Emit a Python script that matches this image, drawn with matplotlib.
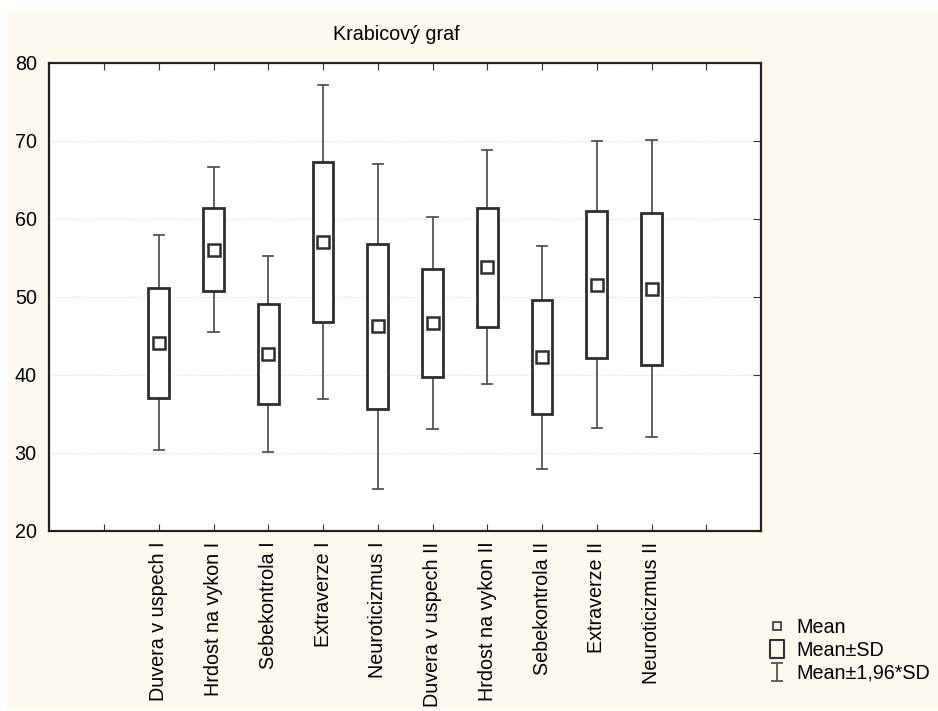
import matplotlib
matplotlib.use("Agg")
import matplotlib.pyplot as plt
from matplotlib.patches import Rectangle
from matplotlib.lines import Line2D
from matplotlib.path import Path
import numpy as np

plt.rcParams['font.family'] = ['Liberation Sans', 'DejaVu Sans']

# data (mean and SD for each variable)
labels = ["Duvera v uspech I", "Hrdost na vykon I", "Sebekontrola I", "Extraverze I",
          "Neuroticizmus I", "Duvera v uspech II", "Hrdost na vykon II",
          "Sebekontrola II", "Extraverze II", "Neuroticizmus II"]
means = [44.11, 56.05, 42.62, 57.00, 46.19, 46.65, 53.78, 42.25, 51.56, 51.03]
sds = [7.05, 5.37, 6.40, 10.25, 10.63, 6.93, 7.65, 7.30, 9.38, 9.73]
k = 1.96
legend_labels = ["Mean", "Mean±SD", "Mean±1,96*SD"]

fs = 14.2
cream = '#fef9ee'
fig = plt.figure(figsize=(9.38, 7.11), dpi=100, facecolor='white')
fig.patches.append(Rectangle((7/938, 2/711), 1 - 7/938, 1 - 12/711,
                             transform=fig.transFigure, facecolor=cream,
                             edgecolor='none', zorder=-10))

ax = fig.add_axes([49.3/938, 1 - 530.7/711, (761 - 49.3)/938, (530.7 - 62.7)/711])
ax.set_facecolor('white')

pos = np.arange(2, 2 + len(labels))
m = np.array(means)
s = np.array(sds)
bw = 0.38
cw = 0.19

for x, mu, sd in zip(pos, m, s):
    # whiskers Mean +- 1.96*SD
    ax.plot([x, x], [mu + sd, mu + k*sd], color='#555555', lw=1.3, zorder=2)
    ax.plot([x, x], [mu - k*sd, mu - sd], color='#555555', lw=1.3, zorder=2)
    ax.plot([x - cw/2, x + cw/2], [mu + k*sd]*2, color='#555555', lw=1.3, zorder=2)
    ax.plot([x - cw/2, x + cw/2], [mu - k*sd]*2, color='#555555', lw=1.3, zorder=2)
    # box Mean +- SD
    ax.add_patch(Rectangle((x - bw/2, mu - sd), bw, 2*sd, facecolor='white',
                           edgecolor='#2e2e2e', lw=2, zorder=3))
ax.plot(pos, m, 's', ms=9, mfc='white', mec='#2e2e2e', mew=1.8, ls='none', zorder=4)

ax.set_xlim(0, 13)
ax.set_ylim(20, 80)
ax.set_yticks(np.arange(20, 81, 10))
ax.set_xticks(np.arange(1, 13))
ax.set_xticklabels([""] + labels + [""], rotation=90, va='top', ha='center')
ax.tick_params(axis='x', direction='in', length=5, top=True, bottom=True,
               labelsize=fs, pad=8, color='#333333')
ax.tick_params(axis='y', direction='in', length=6, left=False, right=True,
               labelsize=fs, pad=9, color='#333333')
ax.grid(axis='y', color='#d8d8d8', ls=':', lw=0.8)
for sp in ax.spines.values():
    sp.set_color('#222222')
    sp.set_linewidth(1.6)

fig.text(396/938, 1 - 35/711, "Krabicový graf", fontsize=fs, ha='center', va='center')

# legend with custom marker shapes
box_path = Path([(-0.4, -0.5), (0.4, -0.5), (0.4, 0.5), (-0.4, 0.5), (-0.4, -0.5)],
                [Path.MOVETO, Path.LINETO, Path.LINETO, Path.LINETO, Path.CLOSEPOLY])
ibeam = Path([(-0.35, 0.5), (0.35, 0.5), (0, 0.5), (0, -0.5), (-0.35, -0.5), (0.35, -0.5)],
             [Path.MOVETO, Path.LINETO, Path.MOVETO, Path.LINETO, Path.MOVETO, Path.LINETO])
h_mean = Line2D([], [], marker='s', ms=6.3, mfc='#eeeef4', mec='#333333', mew=1.2, ls='none')
h_box = Line2D([], [], marker=box_path, ms=12.5, mfc='none', mec='#333333', mew=1.5, ls='none')
h_err = Line2D([], [], marker=ibeam, ms=13, mfc='none', mec='#555555', mew=1.3, ls='none')
fig.legend([h_mean, h_box, h_err], legend_labels,
           loc='upper left', bbox_to_anchor=(768/938, 1 - 618/711), frameon=False,
           fontsize=fs, handlelength=0.95, handletextpad=0.5, labelspacing=0.2,
           borderpad=0, borderaxespad=0)

fig.savefig("out.png", dpi=100, facecolor='white')
